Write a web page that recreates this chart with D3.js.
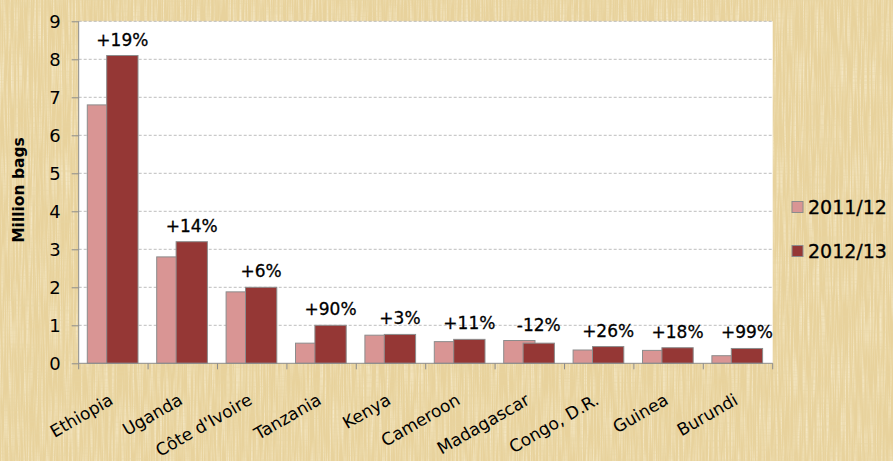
<!DOCTYPE html>
<html><head><meta charset="utf-8">
<script src="https://cdn.jsdelivr.net/npm/d3@7"></script>
<style>html,body{margin:0;padding:0;background:#e8d29c;}svg{display:block;}</style>
</head><body>
<svg id="chart" width="893" height="461"></svg>
<script>
const categories = ["Ethiopia","Uganda","Côte d'Ivoire","Tanzania","Kenya","Cameroon","Madagascar","Congo, D.R.","Guinea","Burundi"];
const values2011 = [6.8, 2.8, 1.88, 0.53, 0.74, 0.57, 0.6, 0.35, 0.34, 0.2];
const values2012 = [8.1, 3.2, 2.0, 1.0, 0.76, 0.63, 0.53, 0.44, 0.41, 0.39];
const changeLabels = ["+19%","+14%","+6%","+90%","+3%","+11%","-12%","+26%","+18%","+99%"];
const seriesNames = ["2011/12","2012/13"];
const yTicks = [0,1,2,3,4,5,6,7,8,9];
const colors = ["#d99594","#953735"];

const svg = d3.select("#chart");
const W = 893, H = 461;
const plot = {left: 78.7, right: 772.7, top: 21.3, bottom: 363.3};
const font = "'DejaVu Sans', Verdana, sans-serif";

// papyrus-like background
const defs = svg.append("defs");
svg.append("rect").attr("width",W).attr("height",H).attr("fill","#e8d29c");
const g2 = defs.append("filter").attr("id","fib");
g2.append("feTurbulence").attr("type","fractalNoise").attr("baseFrequency","0.6 0.02").attr("numOctaves",2).attr("seed",2);
g2.append("feColorMatrix").attr("type","matrix").attr("values","0 0 0 0 1  0 0 0 0 0.96  0 0 0 0 0.82  1.2 0 0 0 -0.5");
const g3 = defs.append("filter").attr("id","fib2");
g3.append("feTurbulence").attr("type","fractalNoise").attr("baseFrequency","0.02 0.6").attr("numOctaves",2).attr("seed",7);
g3.append("feColorMatrix").attr("type","matrix").attr("values","0 0 0 0 0.8  0 0 0 0 0.66  0 0 0 0 0.36  1.2 0 0 0 -0.5");
svg.append("rect").attr("width",W).attr("height",H).attr("filter","url(#fib)");
svg.append("rect").attr("width",W).attr("height",H).attr("filter","url(#fib2)");

// scales
const x = d3.scaleBand().domain(categories).range([plot.left, plot.right]).padding(0);
const y = d3.scaleLinear().domain([0,9]).range([plot.bottom, plot.top]);

// plot area
svg.append("rect").attr("x",plot.left).attr("y",plot.top).attr("width",plot.right-plot.left).attr("height",plot.bottom-plot.top).attr("fill","#ffffff");

// grid
svg.append("g").selectAll("line").data(yTicks.filter(d=>d>0)).join("line")
  .attr("x1",plot.left).attr("x2",plot.right).attr("y1",d=>y(d)).attr("y2",d=>y(d))
  .attr("stroke","#bdbdbd").attr("stroke-width",1).attr("stroke-dasharray","3,2");

// bars
const bw = 31.3;
const offsets = [-26.1, -6.7];
const data = categories.map((c,i)=>({c, v:[values2011[i], values2012[i]], lab: changeLabels[i]}));
const bars = svg.append("g");
[0,1].forEach(s=>{
  bars.selectAll(".b"+s).data(data).join("rect").attr("class","b"+s)
    .attr("x",d=>x(d.c)+x.bandwidth()/2+offsets[s])
    .attr("y",d=>y(d.v[s]))
    .attr("width",bw)
    .attr("height",d=>y(0)-y(d.v[s]))
    .attr("fill",colors[s]).attr("stroke","#8c8c8c").attr("stroke-width",1);
});

// change labels
svg.append("g").selectAll("text").data(data).join("text")
  .attr("x",d=>x(d.c)+x.bandwidth()/2+offsets[1]+bw/2)
  .attr("y",d=>y(Math.max(d.v[0],d.v[1]))-10)
  .attr("text-anchor","middle").attr("font-family",font).attr("font-size",17)
  .attr("fill","#000").attr("stroke","#000").attr("stroke-width",0.3)
  .text(d=>d.lab);

// y axis
const yAxis = d3.axisLeft(y).tickValues(yTicks).tickSize(7).tickPadding(11).tickFormat(d3.format("d"));
const ya = svg.append("g").attr("transform",`translate(${plot.left},0)`).call(yAxis);
ya.select(".domain").attr("stroke","#8c8c8c").attr("d",`M0,${plot.bottom}V${plot.top}`);
ya.selectAll(".tick line").attr("stroke","#8c8c8c");
ya.selectAll(".tick text").attr("font-family",font).attr("font-size",18).attr("fill","#000");

// x axis
const xa = svg.append("g").attr("transform",`translate(0,${plot.bottom})`);
xa.append("line").attr("x1",plot.left).attr("x2",plot.right).attr("stroke","#8c8c8c");
const bounds = categories.map(c=>x(c)).concat([plot.right]);
xa.selectAll(".tk").data(bounds).join("line").attr("class","tk")
  .attr("x1",d=>d).attr("x2",d=>d).attr("y1",0).attr("y2",6).attr("stroke","#8c8c8c");
xa.selectAll("text").data(categories).join("text")
  .attr("transform",d=>`translate(${x(d)+x.bandwidth()/2+1},${40}) rotate(-30)`)
  .attr("text-anchor","end").attr("font-family",font).attr("font-size",17).attr("fill","#000")
  .text(d=>d);

// y title
svg.append("text").attr("transform","translate(24,190) rotate(-90)")
  .attr("text-anchor","middle").attr("font-family",font).attr("font-size",15.5).attr("font-weight","bold")
  .text("Million bags");

// legend
const lg = svg.append("g");
seriesNames.forEach((n,i)=>{
  const cy = 207 + i*44;
  lg.append("rect").attr("x",792).attr("y",cy-5.5).attr("width",11).attr("height",11)
    .attr("fill",colors[i]).attr("stroke","#8c8c8c");
  lg.append("text").attr("x",808).attr("y",cy).attr("dy","0.36em")
    .attr("font-family",font).attr("font-size",19).attr("fill","#000").attr("stroke","#000").attr("stroke-width",0.3).text(n);
});
</script>
</body></html>
